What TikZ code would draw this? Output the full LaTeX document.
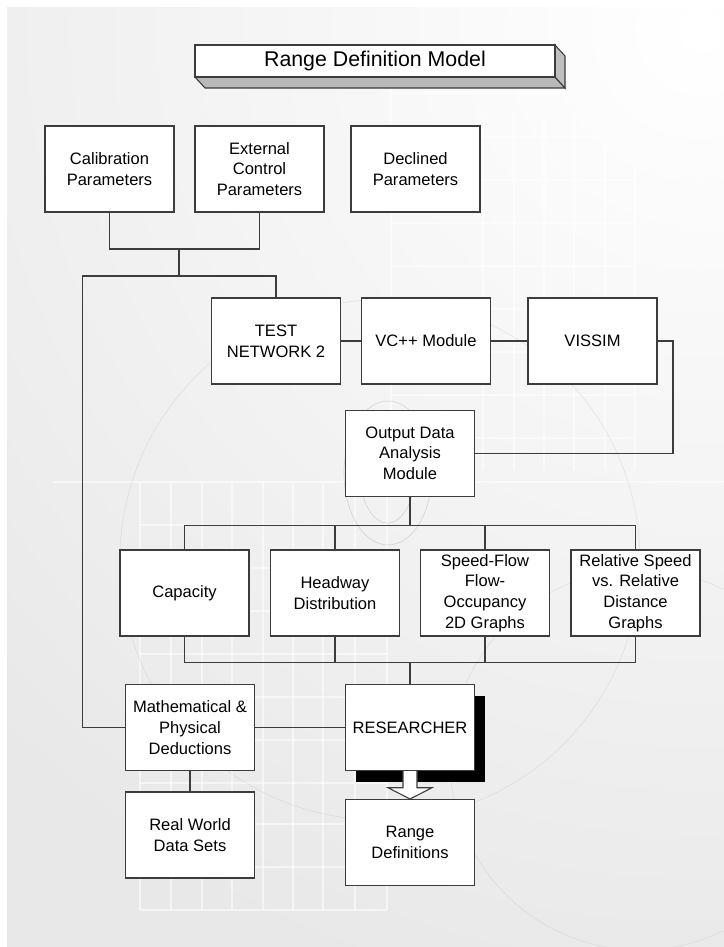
\documentclass[tikz,border=0pt]{standalone}
\usepackage{fontspec}
\setmainfont{Liberation Sans}
\usetikzlibrary{calc}
\definecolor{linec}{HTML}{3C3C3C}
\definecolor{panel}{HTML}{E8E8E8}
\definecolor{depth}{HTML}{B8B8B8}
\tikzset{
  blockbox/.style={draw=linec, fill=white, line width=1.1pt, inner sep=0pt,
    minimum width=96.75pt, minimum height=64.5pt, align=center,
    font=\fontsize{12.4}{15.5}\selectfont},
  wire/.style={draw=linec, line width=0.95pt},
  gridline/.style={draw=white, line width=0.9pt, opacity=0.55},
  arcline/.style={draw=black!30, line width=0.5pt, opacity=0.25}
}
\begin{document}
\begin{tikzpicture}[x=0.75pt,y=-0.75pt]
\useasboundingbox (0,0) rectangle (724,947);

% backdrop panel with a light glow towards the upper right
\fill[panel] (7,7) rectangle (724,947);
\begin{scope}
  \clip (7,7) rectangle (724,947);
  \shade[inner color=white, outer color=panel] (700,30) circle (1000);
  % faint grids
  \foreach \x in {140,171,202,232,263,293,323,355,387}
    \draw[gridline] (\x,482) -- (\x,910);
  \foreach \y in {525,568,611,654,697,740,783,824,867,910}
    \draw[gridline] (140,\y) -- (387,\y);
  \draw[gridline] (53,482) -- (724,482);
  \foreach \x in {483,514,544,574,605}
    \draw[gridline] (\x,115) -- (\x,470);
  \draw[gridline] (391,50) -- (391,470);
  \draw[gridline] (635,50) -- (635,470);
  \foreach \y in {50,93,137,180,223,266,309,352,395,438}
    \draw[gridline] (391,\y) -- (635,\y);
  % faint arcs
  \draw[arcline, opacity=0.45] (388,473) ellipse (44 and 72);
  \draw[arcline, opacity=0.45] (387.5,473) ellipse (27.5 and 50);
  \draw[arcline] (640,760) circle (190);
  \draw[arcline] (380,560) circle (260);
\end{scope}

% title block with depth faces
\fill[depth, draw=linec, line width=0.8pt] (195,77) -- (555,77) -- (565,88) -- (205,88) -- cycle;
\fill[depth!90!white, draw=linec, line width=0.8pt] (555,45) -- (565,56) -- (565,88) -- (555,77) -- cycle;
\node[draw=linec, fill=white, line width=1.1pt, minimum width=270pt, minimum height=24pt, inner sep=0pt,
      font=\fontsize{16}{18}\selectfont] (title) at (375,61) {Range Definition Model};

% parameter boxes
\node[blockbox] (calib) at (109.5,169) {Calibration\\Parameters};
\node[blockbox] (ext) at (259.5,169) {External\\Control\\Parameters};
\node[blockbox] (decl) at (415.5,169) {Declined\\Parameters};

% simulation chain
\node[blockbox] (test) at (276,341) {TEST\\NETWORK 2};
\node[blockbox] (vc) at (426,341) {VC++ Module};
\node[blockbox] (vissim) at (592.5,341) {VISSIM};
\node[blockbox] (output) at (410,453.3) {Output Data\\Analysis\\Module};

% result boxes
\node[blockbox] (cap) at (184.5,593) {Capacity};
\node[blockbox] (head) at (335,593) {Headway\\Distribution};
\node[blockbox] (speed) at (485,593) {Speed-Flow\\Flow-\\Occupancy\\2D Graphs};
\node[blockbox] (rel) at (635.5,593) {Relative Speed\\vs. Relative\\Distance\\Graphs};

% researcher with drop shadow
\fill[black] (355.5,695.7) rectangle (485.2,781.7);
\node[blockbox] (math) at (190,727.5) {Mathematical \&\\Physical\\Deductions};
\node[blockbox] (res) at (410,727.5) {RESEARCHER};
\node[blockbox] (real) at (190,835) {Real World\\Data Sets};
\node[blockbox] (rdef) at (410,842.7) {Range\\Definitions};

% junction points
\coordinate (j1) at (179,249);
\coordinate (j2) at (179,276);
\coordinate (lft) at (82.6,276);
\coordinate (vr) at (673,341);
\coordinate (fan) at (410,525.7);
\coordinate (col) at (410,662.3);

% connectors
\draw[wire] (calib.south) -- (calib.south |- j1) -- (ext.south |- j1) -- (ext.south);
\draw[wire] (j1) -- (j2);
\draw[wire] (test.north) |- (lft) |- (math.west);
\draw[wire] (test.east) -- (vc.west);
\draw[wire] (vc.east) -- (vissim.east -| vissim.west);
\draw[wire] (vissim.east) -- (vr) |- (output.east);
\draw[wire] (output.south) -- (fan);
\draw[wire] (cap.north) |- (fan) -| (rel.north);
\draw[wire] (head.north) -- (head.north |- fan);
\draw[wire] (speed.north) -- (speed.north |- fan);
\draw[wire] (cap.south) |- (col) -| (rel.south);
\draw[wire] (head.south) -- (head.south |- col);
\draw[wire] (speed.south) -- (speed.south |- col);
\draw[wire] (col) -- (res.north);
\draw[wire] (math.east) -- (res.west);
\draw[wire] (math.south) -- (real.north);

% block arrow from researcher to range definitions
\draw[draw=linec, fill=white, line width=0.8pt]
  ($(res.south)+(-7,0)$) -- ($(res.south)+(-7,16.5)$) -- ($(res.south)+(-22,16.5)$)
  -- (rdef.north) -- ($(res.south)+(22,16.5)$) -- ($(res.south)+(7,16.5)$)
  -- ($(res.south)+(7,0)$);
\end{tikzpicture}
\end{document}
